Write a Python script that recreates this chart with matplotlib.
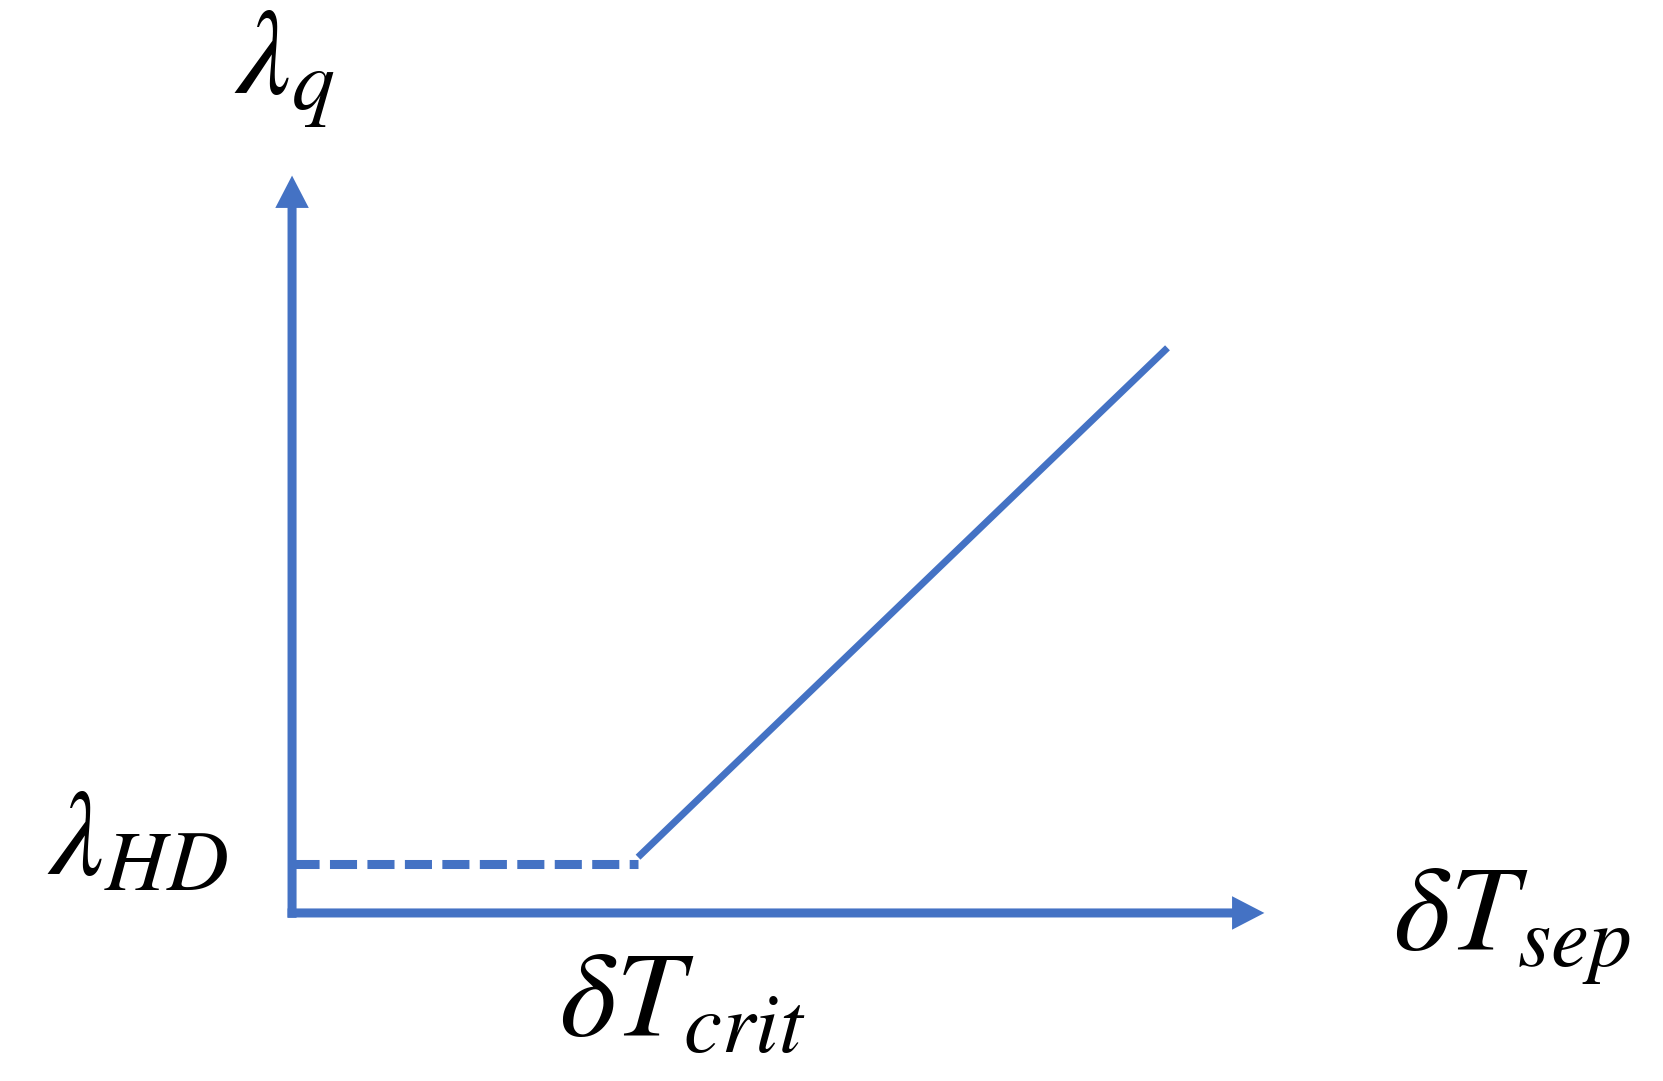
import matplotlib.pyplot as plt

plt.rcParams['mathtext.fontset'] = 'stix'

blue = '#4472C4'

# schematic values (arbitrary units)
dT_crit = 1.0
lam_HD = 1.0
dT_flat = [0.0, dT_crit]
lam_flat = [lam_HD, lam_HD]
dT_lin = [1.0, 2.53]
lam_lin = [1.15, 11.65]
x_axis_end = 2.81
y_axis_end = 15.2

fig = plt.figure(figsize=(16.63, 10.81), dpi=100)
ax = fig.add_axes([0, 0, 1, 1])
ax.set_xlim(-0.844, 3.962)
ax.set_ylim(-3.464, 18.82)
ax.axis('off')

# axes arrows
arrow = dict(arrowstyle='-|>,head_length=0.27,head_width=0.14', lw=6.5,
             color=blue, shrinkA=0, shrinkB=0, mutation_scale=48,
             joinstyle='miter', capstyle='butt')
ax.annotate('', xy=(0, y_axis_end), xytext=(0, -0.1), arrowprops=arrow)
ax.annotate('', xy=(x_axis_end, 0), xytext=(-0.013, 0), arrowprops=arrow)

# flat (dashed) and linear branches
ax.plot(dT_flat, lam_flat, color=blue, lw=6.5, ls=(0, (3.0, 1.15)),
        solid_capstyle='butt', dash_capstyle='butt')
ax.plot(dT_lin, lam_lin, color=blue, lw=5, solid_capstyle='butt')

fs = 88
fig.text(0.171, 0.936, r'$\lambda_q$', fontsize=fs, ha='center', va='center')
fig.text(0.083, 0.222, r'$\lambda_{HD}$', fontsize=fs, ha='center', va='center')
fig.text(0.410, 0.072, r'$\delta T_{crit}$', fontsize=fs, ha='center', va='center')
fig.text(0.909, 0.143, r'$\delta T_{sep}$', fontsize=fs, ha='center', va='center')

fig.savefig('out.png', dpi=100)
